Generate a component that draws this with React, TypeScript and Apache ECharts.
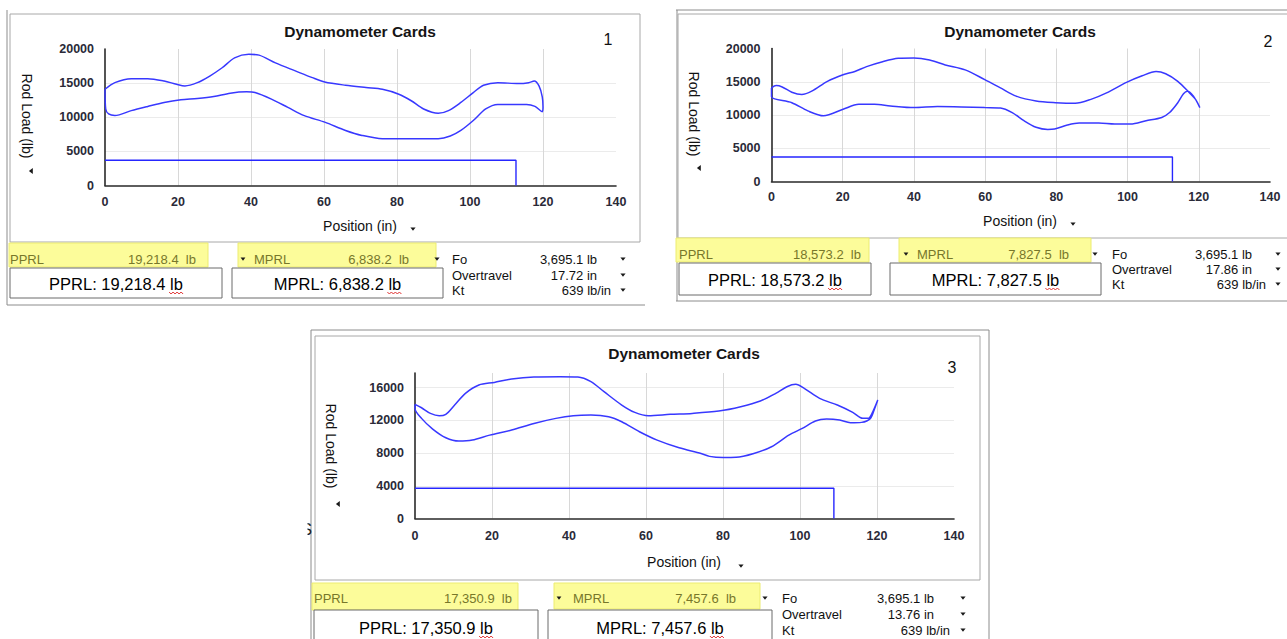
import React, { useEffect, useRef } from "react";
import * as echarts from "echarts";

// ---------------- data ----------------
const cardLabels = ["1", "2", "3"];
const pprlValues = [19218.4, 18573.2, 17350.9];
const mprlValues = [6838.2, 7827.5, 7457.6];
const foValues = [3695.1, 3695.1, 3695.1];
const overtravelValues = [17.72, 17.86, 13.76];
const ktValues = [639, 639, 639];
const foStrokeEnd = [112.6, 112.6, 108.8];

const xMin = 0;
const xMax = 140;
const xInterval = 20;
const yMaxes = [20000, 20000, 17800];
const yIntervals = [5000, 5000, 4000];

const card1Upper: number[][] = [
  [0, 14100], [2.7, 15070], [7.2, 15650], [11.7, 15650], [16.2, 15310], [19.6, 14830],
  [21.9, 14590], [25.3, 15070], [28.7, 16040], [32.1, 17250], [35.5, 18700], [39.4, 19218],
  [42.2, 19100], [46.7, 17970], [52.3, 16760], [56.8, 15800], [60.2, 15170], [65.9, 14690],
  [71.5, 14350], [76, 14100], [80.5, 13380], [83.9, 12420], [87.3, 11210], [91.3, 10580],
  [94.1, 10970], [97.5, 12170], [100.9, 13620], [103.7, 14690], [107.6, 15070], [113.3, 14930],
  [116.1, 15070], [117.6, 15310], [118.9, 14590], [119.8, 13000], [120, 11500], [119.8, 10820],
];
const card1Lower: number[][] = [
  [119.8, 10820], [117.8, 11590], [115.5, 11880], [107.6, 11880], [104.3, 11210], [100.9, 9520],
  [97.5, 8070], [94.6, 7250], [91.3, 6860], [83.9, 6838], [76, 6850], [70.4, 7340],
  [65.9, 8070], [60.2, 9280], [54.6, 10240], [50.1, 11450], [45.6, 12660], [41.1, 13620],
  [38.8, 13720], [34.3, 13530], [29.8, 13040], [25.3, 12750], [20.8, 12560], [16.2, 12170],
  [11.7, 11590], [7.2, 10970], [2.7, 10240], [1, 10480], [0.2, 11210], [0, 14100],
];

const card2Upper: number[][] = [
  [0, 14070], [1.3, 14420], [3, 14220], [5.7, 13430], [8.5, 13090], [11.3, 13580],
  [15.7, 15060], [20.1, 16050], [23.4, 16540], [26.7, 17280], [31.2, 18020], [35.6, 18520],
  [40, 18573], [44.4, 18270], [48.8, 17530], [54.4, 16790], [59.9, 15310], [64.3, 14070],
  [68.7, 12840], [74.3, 12100], [79.8, 11850], [85.3, 11750], [89.7, 12350], [94.1, 13330],
  [99.7, 14910], [104.1, 15900], [108, 16540], [110.7, 16200], [114.1, 15060], [117.4, 13330],
  [119.1, 12350], [120.3, 11110],
];
const card2Lower: number[][] = [
  [120.3, 11110], [118.5, 12840], [116.8, 13580], [115.7, 13190], [114.1, 11850], [111.8, 10370],
  [109.6, 9630], [105.2, 9140], [100.8, 8640], [96.4, 8640], [91.9, 8790], [86.4, 8790],
  [83.1, 8490], [79.5, 7900], [77.6, 7828], [74.3, 8150], [70.9, 9140], [67.6, 10370],
  [64.3, 11060], [59.9, 11110], [53.3, 11210], [46.6, 11260], [40, 11110], [33.4, 11360],
  [28.9, 11600], [24.5, 11600], [20.1, 10860], [14.6, 9880], [10.2, 10620], [5.7, 11850],
  [0, 12740], [0, 14070],
];

const card3Upper: number[][] = [
  [0, 13960], [1.7, 13550], [4, 12860], [6.3, 12570], [8, 12740], [10.3, 13880],
  [13.1, 15310], [16.6, 16330], [20.6, 16650], [25.1, 17060], [30.9, 17310], [37.7, 17351],
  [42.3, 17310], [45.7, 16740], [49.1, 15510], [53.7, 13880], [57.1, 12980], [60.6, 12570],
  [66.3, 12740], [72, 12860], [78.9, 13140], [84.6, 13670], [89.7, 14370], [93.7, 15310],
  [96.6, 16120], [98.9, 16410], [101.1, 15920], [105.1, 14690], [109.7, 13880], [113.7, 12980],
  [116.3, 12250], [117.7, 12250], [118.9, 13060], [120.2, 14490],
];
const card3Lower: number[][] = [
  [120.2, 14490], [119.4, 13470], [118.3, 12250], [116, 11760], [113.1, 11710], [110.3, 12040],
  [106.9, 12160], [104, 11920], [100.6, 11020], [97.1, 10200], [92.6, 8780], [88, 7960],
  [83.4, 7480], [80, 7458], [76.5, 7600], [74.3, 7960], [68.6, 8650], [62.9, 9590],
  [58.3, 10610], [53.7, 11840], [50.3, 12450], [45.7, 12650], [41.1, 12570], [36.6, 12250],
  [30.9, 11630], [25.1, 10820], [19.4, 10200], [14.9, 9590], [11.4, 9470], [8, 9880],
  [4.6, 10940], [1.7, 12250], [0, 13470], [0, 13960],
];

const cardUpper = [card1Upper, card2Upper, card3Upper];
const cardLower = [card1Lower, card2Lower, card3Lower];

// ---------------- layout ----------------
const FONT = "'Liberation Sans', Arial, Helvetica, sans-serif";
const CURVE = "#3838ff";
const RECT_LINE = "#2626ff";
const YELLOW = "#fcfc9a";
const YELLOW_BORDER = "#ecec70";
const OLIVE = "#77772a";
const FRAME = "#a8a8a8";

type Layout = {
  outer: number[][];
  inner: number[];
  title: number[];
  num: number[];
  grid: number[];
  xMargin: number;
  yName: number[];
  yTri: number[];
  xName: number[];
  xTri: number[];
  pprlHL: number[];
  pprlLabelX: number;
  pprlValRight: number;
  mprlHL: number[];
  mprlArrowX: number;
  mprlLabelX: number;
  mprlValRight: number;
  mprlArrow2X: number;
  hlTextY: number;
  pprlBox: number[];
  mprlBox: number[];
  boxTextY: number;
  foX: number;
  foRows: number[];
  valRight: number;
  ktRight: number;
  arrowX: number;
};

const layouts: Layout[] = [
  {
    outer: [[7, 10, 7, 305], [7, 305, 645, 305]],
    inner: [10, 14, 630, 228],
    title: [360, 31],
    num: [608, 39],
    grid: [105, 49, 511, 136.5],
    xMargin: 10,
    yName: [27, 116],
    yTri: [31, 171],
    xName: [360, 226],
    xTri: [413, 229],
    pprlHL: [9, 243, 199, 24],
    pprlLabelX: 10,
    pprlValRight: 196,
    mprlHL: [238, 243, 198, 24],
    mprlArrowX: 243,
    mprlLabelX: 254,
    mprlValRight: 409,
    mprlArrow2X: 437,
    hlTextY: 259,
    pprlBox: [10, 268, 212, 30],
    mprlBox: [232, 268, 211, 30],
    boxTextY: 284,
    foX: 452,
    foRows: [259, 275, 290],
    valRight: 597,
    ktRight: 611,
    arrowX: 623,
  },
  {
    outer: [[676, 10, 1287, 10], [677, 10, 677, 301], [676, 301, 1287, 301]],
    inner: [678, 14, 620, 224],
    title: [1020, 31],
    num: [1268, 41],
    grid: [771.5, 48.5, 498.5, 133],
    xMargin: 9,
    yName: [694, 114],
    yTri: [699, 168],
    xName: [1020, 220.5],
    xTri: [1073, 224],
    pprlHL: [676, 238, 193, 24],
    pprlLabelX: 679,
    pprlValRight: 861,
    mprlHL: [899, 238, 192, 24],
    mprlArrowX: 906,
    mprlLabelX: 917,
    mprlValRight: 1069,
    mprlArrow2X: 1095,
    hlTextY: 254,
    pprlBox: [679, 263, 192, 32],
    mprlBox: [890, 263, 211, 32],
    boxTextY: 280,
    foX: 1112,
    foRows: [254, 269, 284],
    valRight: 1252,
    ktRight: 1266,
    arrowX: 1278,
  },
  {
    outer: [[311, 330, 989, 330], [311, 330, 311, 639], [989, 330, 989, 639]],
    inner: [315, 336, 665, 244],
    title: [684, 353],
    num: [952, 367],
    grid: [415, 373, 539, 145.5],
    xMargin: 11,
    yName: [331, 446],
    yTri: [338, 504],
    xName: [684, 562],
    xTri: [741, 566],
    pprlHL: [312, 583, 206, 27],
    pprlLabelX: 314,
    pprlValRight: 512,
    mprlHL: [554, 583, 206, 26],
    mprlArrowX: 559,
    mprlLabelX: 573,
    mprlValRight: 736,
    mprlArrow2X: 765,
    hlTextY: 598,
    pprlBox: [314, 610, 224, 40],
    mprlBox: [548, 610, 224, 40],
    boxTextY: 628,
    foX: 782,
    foRows: [598, 614, 630],
    valRight: 934,
    ktRight: 950,
    arrowX: 963,
  },
];

const fmt1 = (v: number) =>
  v.toLocaleString("en-US", { minimumFractionDigits: 1, maximumFractionDigits: 1 });
const fmt2 = (v: number) =>
  v.toLocaleString("en-US", { minimumFractionDigits: 2, maximumFractionDigits: 2 });

let measureCtx: CanvasRenderingContext2D | null = null;
function measure(text: string, font: string) {
  if (!measureCtx) measureCtx = document.createElement("canvas").getContext("2d");
  if (!measureCtx) return text.length * 8;
  measureCtx.font = font;
  return measureCtx.measureText(text).width;
}

function txt(x: number, y: number, text: string, o: any = {}) {
  return {
    type: "text",
    x,
    y,
    silent: true,
    z: 10,
    rotation: o.rotation || 0,
    style: {
      text,
      fontFamily: FONT,
      fontSize: o.size || 12,
      fontWeight: o.weight || "normal",
      fill: o.color || "#111",
      align: o.align || "left",
      verticalAlign: "middle",
    },
  };
}

function tri(cx: number, cy: number, dir: "down" | "left", s = 3) {
  const pts =
    dir === "down"
      ? [[cx - s, cy - s * 0.6], [cx + s, cy - s * 0.6], [cx, cy + s * 0.7]]
      : [[cx + s * 0.6, cy - s], [cx + s * 0.6, cy + s], [cx - s * 0.7, cy]];
  return {
    type: "polygon",
    silent: true,
    z: 10,
    shape: { points: pts },
    style: { fill: "#1a1a1a" },
  };
}

function squiggle(xStart: number, xEnd: number, y: number) {
  const pts: number[][] = [];
  let up = true;
  for (let x = xStart; x <= xEnd; x += 2) {
    pts.push([x, up ? y - 1 : y + 1]);
    up = !up;
  }
  return {
    type: "polyline",
    silent: true,
    z: 11,
    shape: { points: pts },
    style: { stroke: "#e03030", lineWidth: 1, fill: "none" },
  };
}

function panelGraphics(i: number) {
  const L = layouts[i];
  const els: any[] = [];
  L.outer.forEach((l) =>
    els.push({
      type: "line",
      silent: true,
      shape: { x1: l[0], y1: l[1], x2: l[2], y2: l[3] },
      style: { stroke: "#8c8c8c", lineWidth: 1 },
    })
  );
  els.push({
    type: "rect",
    silent: true,
    shape: { x: L.inner[0], y: L.inner[1], width: L.inner[2], height: L.inner[3] },
    style: { fill: "none", stroke: FRAME, lineWidth: 1 },
  });
  els.push(txt(L.title[0], L.title[1], "Dynamometer Cards", { size: 15.5, weight: "bold", align: "center", color: "#151515" }));
  els.push(txt(L.num[0], L.num[1], cardLabels[i], { size: 16, align: "center" }));
  els.push(txt(L.yName[0], L.yName[1], "Rod Load (lb)", { size: 14, align: "center", rotation: -Math.PI / 2 }));
  els.push(tri(L.yTri[0], L.yTri[1], "left", 3));
  els.push(txt(L.xName[0], L.xName[1], "Position (in)", { size: 14, align: "center" }));
  els.push(tri(L.xTri[0], L.xTri[1], "down", 2.6));

  // yellow highlighted rows
  els.push({
    type: "rect",
    silent: true,
    shape: { x: L.pprlHL[0], y: L.pprlHL[1], width: L.pprlHL[2], height: L.pprlHL[3] },
    style: { fill: YELLOW, stroke: YELLOW_BORDER, lineWidth: 1 },
  });
  els.push(txt(L.pprlLabelX, L.hlTextY, "PPRL", { size: 13, color: OLIVE }));
  els.push(txt(L.pprlValRight, L.hlTextY, fmt1(pprlValues[i]) + "\u00a0\u00a0lb", { size: 13, color: OLIVE, align: "right" }));
  els.push({
    type: "rect",
    silent: true,
    shape: { x: L.mprlHL[0], y: L.mprlHL[1], width: L.mprlHL[2], height: L.mprlHL[3] },
    style: { fill: YELLOW, stroke: YELLOW_BORDER, lineWidth: 1 },
  });
  els.push(tri(L.mprlArrowX, L.hlTextY, "down", 2.4));
  els.push(txt(L.mprlLabelX, L.hlTextY, "MPRL", { size: 13, color: OLIVE }));
  els.push(txt(L.mprlValRight, L.hlTextY, fmt1(mprlValues[i]) + "\u00a0\u00a0lb", { size: 13, color: OLIVE, align: "right" }));
  els.push(tri(L.mprlArrow2X, L.hlTextY, "down", 2.6));

  // boxed values
  const boxFont = "16.5px 'Liberation Sans', Arial, sans-serif";
  const boxes = [
    { b: L.pprlBox, t: "PPRL: " + fmt1(pprlValues[i]) + " lb" },
    { b: L.mprlBox, t: "MPRL: " + fmt1(mprlValues[i]) + " lb" },
  ];
  boxes.forEach(({ b, t }) => {
    els.push({
      type: "rect",
      silent: true,
      z: 5,
      shape: { x: b[0], y: b[1], width: b[2], height: b[3] },
      style: { fill: "#ffffff", stroke: "#6a6a6a", lineWidth: 1 },
    });
    const cx = b[0] + b[2] / 2;
    els.push(txt(cx, L.boxTextY, t, { size: 16.5, align: "center", color: "#000" }));
    const w = measure(t, boxFont);
    const lbW = measure("lb", boxFont);
    const right = cx + w / 2;
    els.push(squiggle(right - lbW - 1, right + 1, L.boxTextY + 9));
  });

  // Fo / Overtravel / Kt
  const rows = [
    { label: "Fo", value: fmt1(foValues[i]) + " lb", right: L.valRight },
    { label: "Overtravel", value: fmt2(overtravelValues[i]) + " in", right: L.valRight },
    { label: "Kt", value: String(ktValues[i]) + " lb/in", right: L.ktRight },
  ];
  rows.forEach((r, k) => {
    const y = L.foRows[k];
    els.push(txt(L.foX, y, r.label, { size: 13, color: "#111" }));
    els.push(txt(r.right, y, r.value, { size: 13, color: "#111", align: "right" }));
    els.push(tri(L.arrowX, y, "down", 2.6));
  });
  return els;
}

function buildOption() {
  const grids: any[] = [];
  const xAxes: any[] = [];
  const yAxes: any[] = [];
  const series: any[] = [];
  for (let i = 0; i < 3; i++) {
    const L = layouts[i];
    grids.push({ left: L.grid[0], top: L.grid[1], width: L.grid[2], height: L.grid[3], containLabel: false });
    xAxes.push({
      gridIndex: i,
      type: "value",
      min: xMin,
      max: xMax,
      interval: xInterval,
      axisLine: { show: true, onZero: false, lineStyle: { color: "#2a2a2a", width: 1.6 } },
      axisTick: { show: false },
      axisLabel: {
        margin: L.xMargin,
        color: "#2a2a38",
        fontSize: 12.5,
        fontWeight: "bold",
        fontFamily: FONT,
        formatter: (v: number) => String(v),
      },
      splitLine: {
        show: true,
        showMinLine: false,
        showMaxLine: false,
        lineStyle: { color: "#d8d8d8", width: 1 },
      },
    });
    yAxes.push({
      gridIndex: i,
      type: "value",
      min: 0,
      max: yMaxes[i],
      interval: yIntervals[i],
      axisLine: { show: true, onZero: false, lineStyle: { color: "#2a2a2a", width: 1.6 } },
      axisTick: { show: false },
      axisLabel: {
        margin: 11,
        color: "#2a2a38",
        fontSize: 12.5,
        fontWeight: "bold",
        fontFamily: FONT,
        showMaxLabel: yMaxes[i] % yIntervals[i] === 0,
        formatter: (v: number) => String(v),
      },
      splitLine: {
        show: true,
        showMinLine: false,
        showMaxLine: false,
        lineStyle: { color: "#ebebeb", width: 1 },
      },
    });
    series.push({
      type: "line",
      xAxisIndex: i,
      yAxisIndex: i,
      data: cardUpper[i].concat(cardLower[i]),
      symbol: "none",
      smooth: 0.3,
      silent: true,
      lineStyle: { color: CURVE, width: 1.5 },
    });
    series.push({
      type: "line",
      xAxisIndex: i,
      yAxisIndex: i,
      data: [
        [0, foValues[i]],
        [foStrokeEnd[i], foValues[i]],
        [foStrokeEnd[i], 0],
      ],
      symbol: "none",
      silent: true,
      lineStyle: { color: RECT_LINE, width: 1.4 },
    });
  }
  const graphics: any[] = [];
  for (let i = 0; i < 3; i++) graphics.push(...panelGraphics(i));
  // partially visible stray glyph at the left of the third panel
  graphics.push(txt(312, 529, "S", { size: 17, align: "right", color: "#222" }));
  graphics.push({
    type: "rect",
    silent: true,
    z: 12,
    shape: { x: 290, y: 515, width: 17.5, height: 30 },
    style: { fill: "#ffffff" },
  });
  return {
    animation: false,
    backgroundColor: "#ffffff",
    grid: grids,
    xAxis: xAxes,
    yAxis: yAxes,
    series,
    graphic: graphics,
  };
}

export default function App() {
  const ref = useRef<HTMLDivElement>(null);
  useEffect(() => {
    if (!ref.current) return;
    const chart = echarts.init(ref.current, undefined, { renderer: "svg" });
    chart.setOption(buildOption() as any);
    return () => chart.dispose();
  }, []);
  return (
    <div
      ref={ref}
      style={{ position: "fixed", left: 0, top: 0, width: 1287, height: 639, background: "#fff" }}
    />
  );
}
